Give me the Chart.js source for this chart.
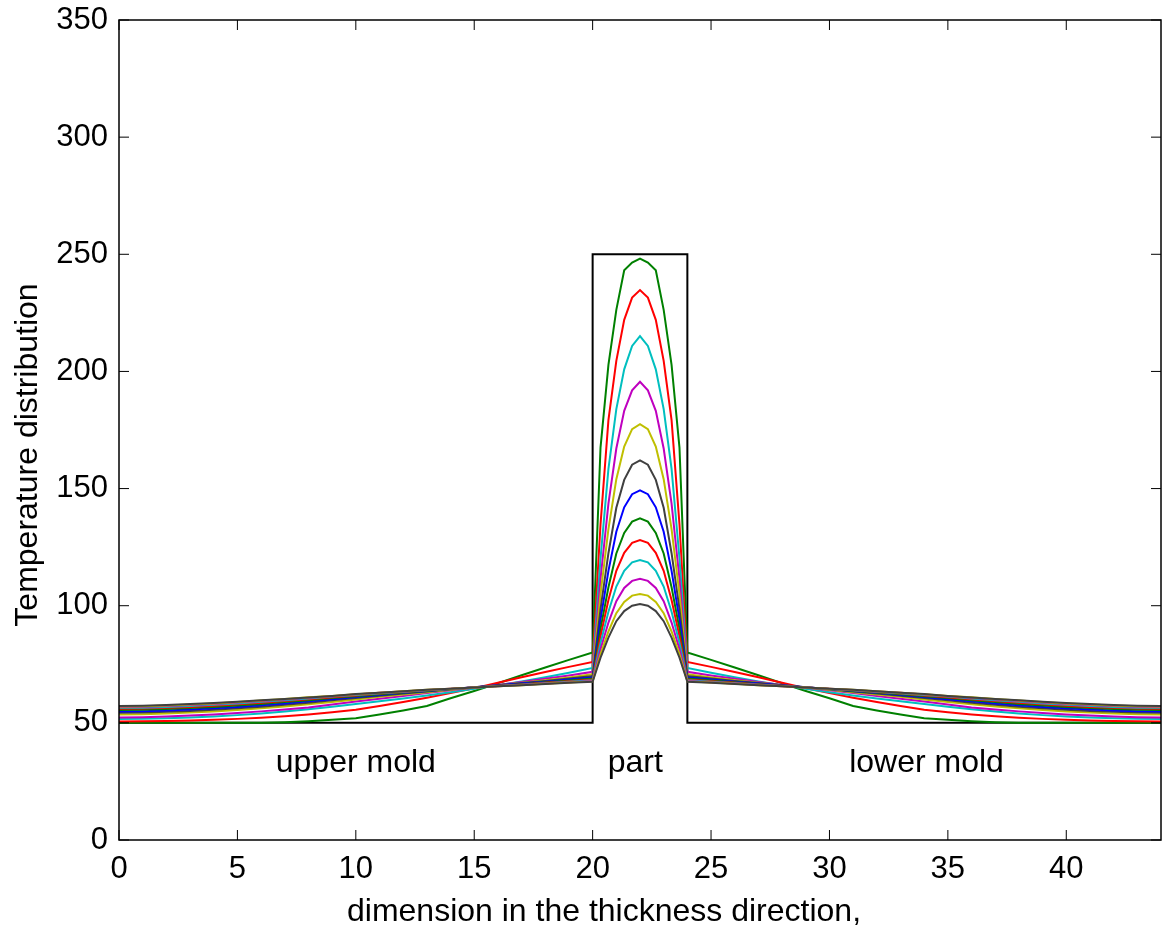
<!DOCTYPE html>
<html>
<head>
<meta charset="utf-8">
<title>Temperature distribution</title>
<script src="https://cdn.jsdelivr.net/npm/chart.js@4.4.0/dist/chart.umd.min.js"></script>
<style>
  html, body { margin: 0; padding: 0; background: #fff; }
</style>
</head>
<body>
<canvas id="myChart" width="1173" height="935"></canvas>
<script>
// node positions through the thickness: upper mold 0-20, part 20-24, lower mold 24-44
const thicknessX = [0, 1, 2, 3, 4, 5, 6, 7, 8, 9, 10, 11, 12, 13, 14, 15, 16, 17, 18, 19, 20,
  20.333, 20.667, 21, 21.333, 21.667, 22, 22.333, 22.667, 23, 23.333, 23.667,
  24, 25, 26, 27, 28, 29, 30, 31, 32, 33, 34, 35, 36, 37, 38, 39, 40, 41, 42, 43, 44];

// initial condition (molds at 50, part at 250)
const initialX = [0, 20, 20, 24, 24, 44];
const initialT = [50, 50, 250, 250, 50, 50];

// temperature profiles, one per time step
const temp01 = [50.0,50.0,50.0,50.0,50.0,50.0,50.0,50.3,50.7,51.3,52.0,53.6,55.3,57.2,60.5,63.6,66.9,70.3,73.6,76.9,80.0,
  167.5,202.8,226.3,243.2,246.5,248.2,246.5,243.2,226.3,202.8,167.5,
  80.0,76.9,73.6,70.3,66.9,63.6,60.5,57.2,55.3,53.6,52.0,51.3,50.7,50.3,50.0,50.0,50.0,50.0,50.0,50.0,50.0];
const temp02 = [50.6,50.7,50.8,51.0,51.3,51.7,52.2,52.8,53.6,54.5,55.6,57.2,58.9,60.7,62.7,64.8,67.1,69.5,71.7,73.9,76.0,
  134.7,179.2,204.5,222.0,231.5,234.7,231.5,222.0,204.5,179.2,134.7,
  76.0,73.9,71.7,69.5,67.1,64.8,62.7,60.7,58.9,57.2,55.6,54.5,53.6,52.8,52.2,51.7,51.3,51.0,50.8,50.7,50.6];
const temp03 = [51.6,51.7,52.0,52.3,52.7,53.3,54.0,54.8,55.8,56.9,58.0,59.2,60.4,61.7,63.1,64.6,66.1,67.7,69.5,71.4,73.4,
  120.2,158.4,183.9,200.9,210.9,215.1,210.9,200.9,183.9,158.4,120.2,
  73.4,71.4,69.5,67.7,66.1,64.6,63.1,61.7,60.4,59.2,58.0,56.9,55.8,54.8,54.0,53.3,52.7,52.3,52.0,51.7,51.6];
const temp04 = [52.3,52.4,52.7,53.1,53.6,54.2,54.9,55.7,56.6,57.8,59.1,60.3,61.5,62.7,63.9,65.0,66.2,67.4,68.8,70.2,71.8,
  111.4,143.6,167.1,183.2,191.9,195.6,191.9,183.2,167.1,143.6,111.4,
  71.8,70.2,68.8,67.4,66.2,65.0,63.9,62.7,61.5,60.3,59.1,57.8,56.6,55.7,54.9,54.2,53.6,53.1,52.7,52.4,52.3];
const temp05 = [53.6,53.7,54.0,54.4,54.9,55.5,56.2,57.0,57.9,58.9,60.0,61.1,62.1,63.1,64.1,65.1,66.1,67.1,68.2,69.4,70.8,
  104.9,132.7,154.0,167.9,175.4,177.5,175.4,167.9,154.0,132.7,104.9,
  70.8,69.4,68.2,67.1,66.1,65.1,64.1,63.1,62.1,61.1,60.0,58.9,57.9,57.0,56.2,55.5,54.9,54.4,54.0,53.7,53.6];
const temp06 = [54.3,54.4,54.7,55.1,55.6,56.2,56.9,57.7,58.6,59.6,60.6,61.6,62.5,63.4,64.3,65.2,66.1,67.0,67.9,68.9,70.0,
  98.5,122.4,141.8,153.7,160.2,162.0,160.2,153.7,141.8,122.4,98.5,
  70.0,68.9,67.9,67.0,66.1,65.2,64.3,63.4,62.5,61.6,60.6,59.6,58.6,57.7,56.9,56.2,55.6,55.1,54.7,54.4,54.3];
const temp07 = [54.9,55.0,55.3,55.7,56.2,56.8,57.5,58.3,59.2,60.1,61.0,61.9,62.8,63.6,64.4,65.2,66.0,66.8,67.6,68.5,69.4,
  94.1,114.9,131.6,142.0,147.6,149.2,147.6,142.0,131.6,114.9,94.1,
  69.4,68.5,67.6,66.8,66.0,65.2,64.4,63.6,62.8,61.9,61.0,60.1,59.2,58.3,57.5,56.8,56.2,55.7,55.3,55.0,54.9];
const temp08 = [55.5,55.6,55.9,56.3,56.8,57.4,58.1,58.9,59.7,60.6,61.4,62.2,63.0,63.7,64.4,65.1,65.8,66.5,67.3,68.1,68.9,
  90.1,107.9,122.3,131.1,135.9,137.3,135.9,131.1,122.3,107.9,90.1,
  68.9,68.1,67.3,66.5,65.8,65.1,64.4,63.7,63.0,62.2,61.4,60.6,59.7,58.9,58.1,57.4,56.8,56.3,55.9,55.6,55.5];
const temp09 = [56.0,56.1,56.4,56.8,57.3,57.9,58.6,59.3,60.1,60.9,61.7,62.5,63.2,63.9,64.5,65.1,65.8,66.4,67.1,67.8,68.5,
  87.0,102.4,114.9,122.6,126.8,128.0,126.8,122.6,114.9,102.4,87.0,
  68.5,67.8,67.1,66.4,65.8,65.1,64.5,63.9,63.2,62.5,61.7,60.9,60.1,59.3,58.6,57.9,57.3,56.8,56.4,56.1,56.0];
const temp10 = [56.4,56.5,56.8,57.2,57.7,58.3,59.0,59.7,60.4,61.2,61.9,62.6,63.3,63.9,64.5,65.1,65.7,66.3,66.9,67.5,68.2,
  84.1,97.4,108.2,114.9,118.5,119.5,118.5,114.9,108.2,97.4,84.1,
  68.2,67.5,66.9,66.3,65.7,65.1,64.5,63.9,63.3,62.6,61.9,61.2,60.4,59.7,59.0,58.3,57.7,57.2,56.8,56.5,56.4];
const temp11 = [56.8,56.9,57.2,57.6,58.1,58.7,59.3,60.0,60.7,61.4,62.1,62.8,63.4,64.0,64.6,65.1,65.6,66.2,66.8,67.3,67.9,
  81.4,92.8,101.9,107.6,110.6,111.5,110.6,107.6,101.9,92.8,81.4,
  67.9,67.3,66.8,66.2,65.6,65.1,64.6,64.0,63.4,62.8,62.1,61.4,60.7,60.0,59.3,58.7,58.1,57.6,57.2,56.9,56.8];
const temp12 = [57.0,57.1,57.4,57.8,58.3,58.9,59.5,60.2,60.9,61.5,62.2,62.9,63.5,64.1,64.6,65.1,65.6,66.1,66.7,67.2,67.7,
  79.3,89.0,96.8,101.6,104.3,105.0,104.3,101.6,96.8,89.0,79.3,
  67.7,67.2,66.7,66.1,65.6,65.1,64.6,64.1,63.5,62.9,62.2,61.5,60.9,60.2,59.5,58.9,58.3,57.8,57.4,57.1,57.0];
const temp13 = [57.2,57.3,57.6,58.0,58.5,59.0,59.6,60.2,60.8,61.5,62.3,62.9,63.5,64.1,64.6,65.1,65.6,66.1,66.6,67.1,67.5,
  77.8,86.4,93.4,97.7,100.0,100.7,100.0,97.7,93.4,86.4,77.8,
  67.5,67.1,66.6,66.1,65.6,65.1,64.6,64.1,63.5,62.9,62.3,61.5,60.8,60.2,59.6,59.0,58.5,58.0,57.6,57.3,57.2];

const profiles = [temp01, temp02, temp03, temp04, temp05, temp06, temp07,
  temp08, temp09, temp10, temp11, temp12, temp13];
// old matlab color order, starting at green
const lineColors = ["#008000", "#ff0000", "#00bfbf", "#bf00bf", "#bfbf00", "#404040", "#0000ff",
  "#008000", "#ff0000", "#00bfbf", "#bf00bf", "#bfbf00", "#404040"];

const regionNames = ["upper mold", "part", "lower mold"];
const regionX = [10, 21.8, 34.1];
const regionY = 33;
const xTitle = "dimension in the thickness direction,";
const yTitle = "Temperature distribution";

const FONT = "'Liberation Sans', Arial, Helvetica, sans-serif";
const ctx = document.getElementById("myChart").getContext("2d");

function toPoints(xs, ys) {
  return xs.map((x, i) => ({ x: x, y: ys[i] }));
}

const datasets = profiles.map((p, i) => ({
  data: toPoints(thicknessX, p),
  borderColor: lineColors[i],
  borderWidth: 2,
  order: profiles.length - i, // later steps drawn on top
}));
datasets.push({
  data: toPoints(initialX, initialT),
  borderColor: "#000",
  borderWidth: 2,
  order: 100,
});

// matlab-like box, inward ticks and texts
const moldPlot = {
  id: "moldPlot",
  afterDraw(chart) {
    const { ctx, chartArea: a, scales } = chart;
    const x = scales.x, y = scales.y;
    const tl = 10;
    ctx.save();
    ctx.strokeStyle = "#000";
    ctx.lineWidth = 1.5;
    ctx.strokeRect(a.left, a.top, a.right - a.left, a.bottom - a.top);
    ctx.lineWidth = 1;
    ctx.beginPath();
    x.ticks.forEach(t => {
      const px = x.getPixelForValue(t.value);
      ctx.moveTo(px, a.bottom); ctx.lineTo(px, a.bottom - tl);
      ctx.moveTo(px, a.top); ctx.lineTo(px, a.top + tl);
    });
    y.ticks.forEach(t => {
      const py = y.getPixelForValue(t.value);
      ctx.moveTo(a.left, py); ctx.lineTo(a.left + tl, py);
      ctx.moveTo(a.right, py); ctx.lineTo(a.right - tl, py);
    });
    ctx.stroke();

    ctx.fillStyle = "#000";
    ctx.font = "32px " + FONT;
    ctx.textAlign = "center";
    ctx.textBaseline = "middle";
    regionNames.forEach((name, i) => {
      ctx.fillText(name, x.getPixelForValue(regionX[i]), y.getPixelForValue(regionY));
    });
    ctx.fillText(xTitle, 604, 912);
    ctx.translate(28, 455);
    ctx.rotate(-Math.PI / 2);
    ctx.fillText(yTitle, 0, 0);
    ctx.restore();
  },
};

const chart = new Chart(ctx, {
  type: "line",
  data: { datasets: datasets },
  options: {
    responsive: false,
    animation: false,
    events: [],
    layout: { padding: { top: 20, right: 12, left: 0, bottom: 0 } },
    elements: {
      point: { radius: 0 },
      line: { tension: 0, fill: false },
    },
    plugins: {
      legend: { display: false },
      tooltip: { enabled: false },
    },
    scales: {
      x: {
        type: "linear",
        min: 0,
        max: 44,
        grid: { display: false, drawTicks: false },
        border: { display: false },
        ticks: {
          stepSize: 5,
          includeBounds: false,
          autoSkip: false,
          maxRotation: 0,
          padding: 11,
          color: "#000",
          font: { family: FONT, size: 31 },
        },
        afterFit(scale) {
          scale.height = 95;
          scale.paddingLeft = 0;
          scale.paddingRight = 0;
        },
      },
      y: {
        min: 0,
        max: 350,
        grid: { display: false, drawTicks: false },
        border: { display: false },
        ticks: {
          stepSize: 50,
          padding: 11,
          color: "#000",
          font: { family: FONT, size: 31 },
        },
        afterFit(scale) {
          scale.width = 119;
          scale.paddingTop = 0;
          scale.paddingBottom = 0;
        },
      },
    },
  },
  plugins: [moldPlot],
});
</script>
</body>
</html>
